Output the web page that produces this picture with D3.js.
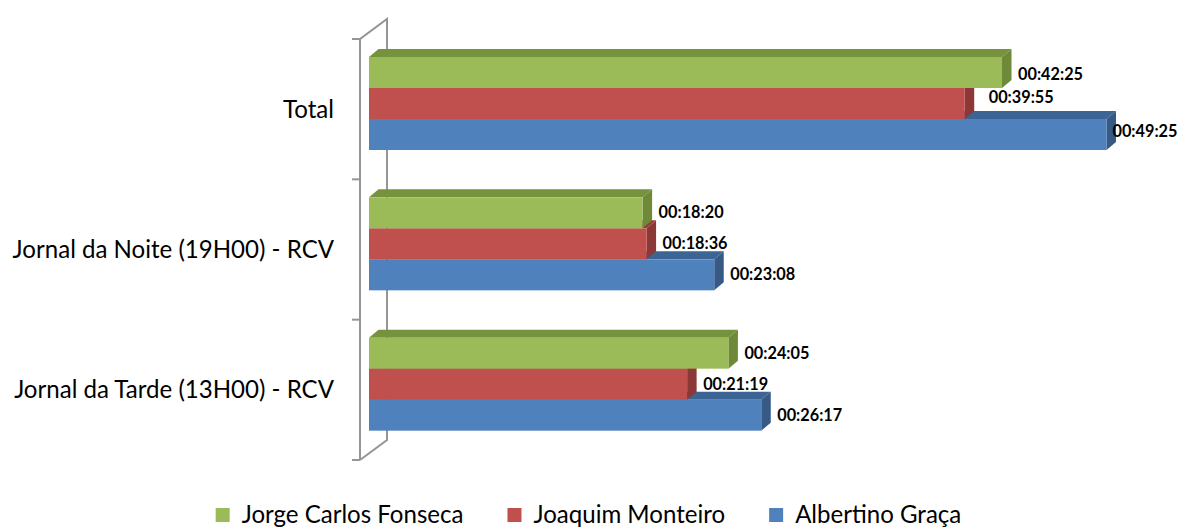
<!DOCTYPE html>
<html>
<head>
<meta charset="utf-8">
<script src="https://cdn.jsdelivr.net/npm/d3@7"></script>
<style>
  html, body { margin: 0; padding: 0; background: #fff; }
  svg { display: block; }
</style>
</head>
<body>
<svg id="chart" width="1179" height="529"></svg>
<script>
// ---- data ----
const categories = ["Total", "Jornal da Noite (19H00) - RCV", "Jornal da Tarde (13H00) - RCV"];
const seriesNames = ["Jorge Carlos Fonseca", "Joaquim Monteiro", "Albertino Graça"];
const jorgeValues = ["00:42:25", "00:18:20", "00:24:05"];
const joaquimValues = ["00:39:55", "00:18:36", "00:21:19"];
const albertinoValues = ["00:49:25", "00:23:08", "00:26:17"];

// ---- styling ----
const colors = {
  "Jorge Carlos Fonseca": { front: "#9BBB59", top: "#76923C", side: "#6E8A38" },
  "Joaquim Monteiro":     { front: "#C0504D", top: "#9A3B39", side: "#8C3836" },
  "Albertino Graça":      { front: "#4F81BD", top: "#3C6595", side: "#375A85" }
};
const FONT = "Lato, 'Open Sans', 'DejaVu Sans', sans-serif";

const toSec = s => { const [h, m, sec] = s.split(":").map(Number); return h * 3600 + m * 60 + sec; };
const seriesValues = [jorgeValues, joaquimValues, albertinoValues];

const svg = d3.select("#chart");

function fitSize(text, weight, target) {
  const t = svg.append("text").attr("font-family", FONT).attr("font-weight", weight)
    .attr("font-size", 100).text(text);
  const w = t.node().getComputedTextLength();
  t.remove();
  return 100 * target / w;
}

// ---- scales ----
const x = d3.scaleLinear().domain([0, 3000]).range([369, 369 + 3000 * 0.24873]);
const y = d3.scaleBand().domain(categories).range([39, 460]).padding(0);
const sub = d3.scaleBand().domain(seriesNames).range([0, 93]).padding(0);
const groupOffset = 18;
const depthX = 9.5, depthY = 8;

// ---- axis (3D wall edge) ----
const axisColor = "#959595";
const ax = svg.append("g").attr("stroke", axisColor).attr("stroke-width", 2).attr("fill", "none");
const [yTop, yBot] = y.range();
const wallDX = 27, wallDY = 20;
const frontX = 360;
ax.append("path").attr("d",
  `M${frontX},${yBot} L${frontX},${yTop} L${frontX + wallDX},${yTop - wallDY} L${frontX + wallDX},${yBot - wallDY} L${frontX},${yBot}`);
const tickYs = categories.map(c => y(c)).concat([yBot]);
ax.selectAll("line.tick").data(tickYs).join("line")
  .attr("x1", frontX - 8).attr("x2", frontX).attr("y1", d => d).attr("y2", d => d);

// ---- bars ----
const bars = svg.append("g");
const labelNudge = { "0-0": [0, 1.5], "0-1": [8, -6], "0-2": [-10, -3.5] };
const labelSize = fitSize("00:18:20", "bold", 65);
const labels = [];

categories.forEach((cat, ci) => {
  for (let si = seriesNames.length - 1; si >= 0; si--) {
    const name = seriesNames[si];
    const v = toSec(seriesValues[si][ci]);
    const y0 = y(cat) + groupOffset + sub(name);
    const h = sub.bandwidth();
    const x0 = x(0), x1 = x(v);
    const c = colors[name];
    const g = bars.append("g");
    g.append("path").attr("fill", c.top)
      .attr("d", `M${x0},${y0} L${x0 + depthX},${y0 - depthY} L${x1 + depthX},${y0 - depthY} L${x1},${y0} Z`);
    g.append("path").attr("fill", c.side)
      .attr("d", `M${x1},${y0} L${x1 + depthX},${y0 - depthY} L${x1 + depthX},${y0 + h - depthY} L${x1},${y0 + h} Z`);
    g.append("rect").attr("fill", c.front)
      .attr("x", x0).attr("y", y0).attr("width", x1 - x0).attr("height", h);
    const n = labelNudge[`${ci}-${si}`] || [0, 0];
    labels.push({ text: seriesValues[si][ci], x: x1 + 16 + n[0], y: y0 + h / 2 - 1 + n[1] });
  }
});

svg.append("g").selectAll("text").data(labels).join("text")
  .attr("x", d => d.x).attr("y", d => d.y)
  .attr("dominant-baseline", "central")
  .attr("font-family", FONT).attr("font-weight", "bold").attr("font-size", labelSize)
  .attr("fill", "#000").text(d => d.text);

// ---- category labels ----
const catSize = fitSize("Jornal da Tarde (13H00) - RCV", "normal", 320);
svg.append("g").selectAll("text").data(categories).join("text")
  .attr("x", 334)
  .attr("y", d => y(d) + groupOffset + 93 / 2 + 14)
  .attr("text-anchor", "end")
  .attr("font-family", FONT).attr("font-size", catSize).attr("fill", "#000")
  .text(d => d);

// ---- legend ----
const legSize = fitSize("Jorge Carlos Fonseca", "normal", 222);
const legend = svg.append("g");
const items = seriesNames.map(n => {
  const t = legend.append("text").attr("font-family", FONT).attr("font-size", legSize).attr("fill", "#000").text(n);
  return { name: n, node: t, w: t.node().getComputedTextLength() };
});
const sq = 14, gapText = 12, gapItem = 44;
const totalW = d3.sum(items, d => sq + gapText + d.w) + gapItem * (items.length - 1);
let lx = 588.5 - totalW / 2;
const legBase = 523;
items.forEach(it => {
  legend.append("rect").attr("x", lx).attr("y", legBase - 15).attr("width", sq).attr("height", sq)
    .attr("fill", colors[it.name].front);
  it.node.attr("x", lx + sq + gapText).attr("y", legBase);
  lx += sq + gapText + it.w + gapItem;
});
</script>
</body>
</html>
